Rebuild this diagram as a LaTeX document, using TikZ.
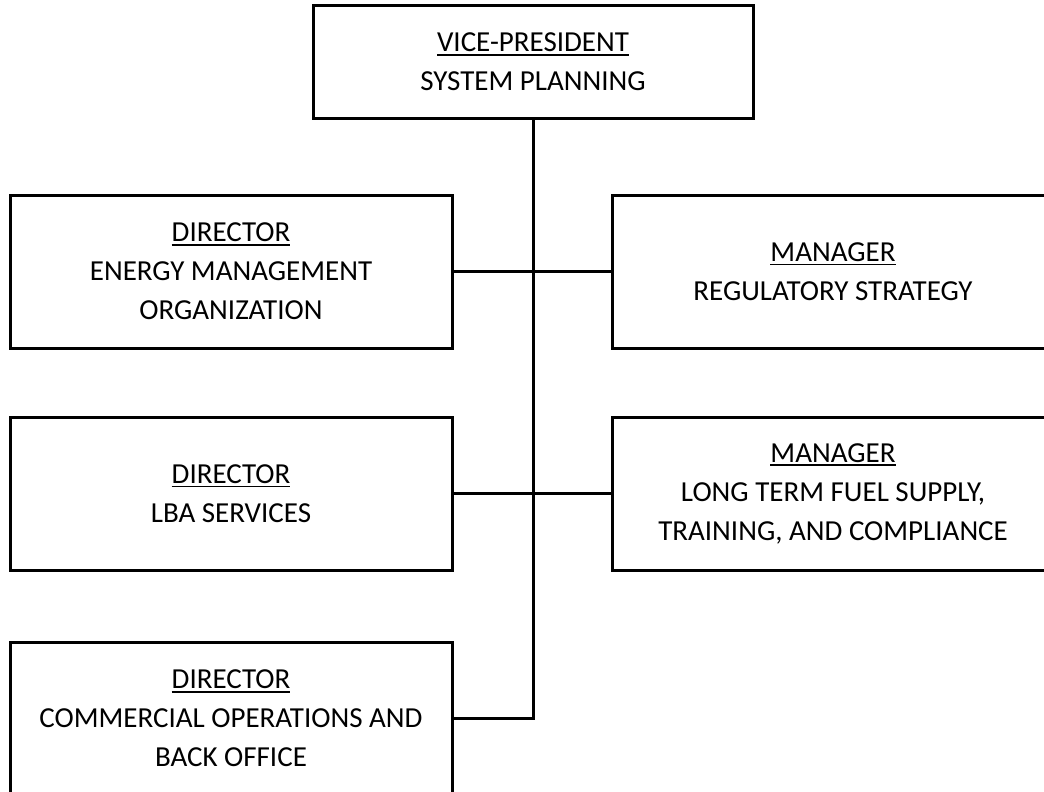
\documentclass[tikz,border=0pt]{standalone}
\usepackage{fontspec}
\setmainfont{Carlito}
\newcommand\myul[1]{\setbox0\hbox{#1}\rlap{\rule[-4pt]{\wd0}{1.8pt}}\box0}
\begin{document}
\begin{tikzpicture}[x=1pt,y=-1pt,
  orgbox/.style={draw=black,line width=3pt,fill=white,inner sep=0pt,outer sep=0pt,
    align=center,font=\fontsize{29}{39}\selectfont,text=black},
  leftbox/.style={orgbox,minimum width=442pt,minimum height=153pt},
  rightbox/.style={orgbox,minimum width=442pt,minimum height=153pt},
  link/.style={draw=black,line width=3pt}]
\useasboundingbox (0,0) rectangle (1044,792);
\clip (0,0) rectangle (1044,792);
\fill[white] (0,0) rectangle (1044,792);
\node[orgbox,minimum width=440pt,minimum height=112pt] (vp) at (533,62) {\myul{VICE-PRESIDENT}\\SYSTEM PLANNING};
\node[leftbox] (emo) at (231,271.5) {\myul{DIRECTOR}\\ENERGY MANAGEMENT\\ORGANIZATION};
\node[leftbox] (lba) at (231,493.5) {\myul{DIRECTOR}\\LBA SERVICES};
\node[leftbox] (com) at (231,718.5) {\myul{DIRECTOR}\\COMMERCIAL OPERATIONS AND\\BACK OFFICE};
\node[rightbox] (reg) at (833,271.5) {\myul{MANAGER}\\REGULATORY STRATEGY};
\node[rightbox] (fuel) at (833,493.5) {\myul{MANAGER}\\LONG TERM FUEL SUPPLY,\\TRAINING, AND COMPLIANCE};
\coordinate (j3) at (533,718);
\draw[link] (vp.south) -- (j3);
\draw[link] (emo.east) -- (reg.west);
\draw[link] (lba.east) -- (fuel.west);
\draw[link,line join=miter] (com.east |- j3) -- (j3) -- ([yshift=-1.5pt]j3 |- vp.south);
\end{tikzpicture}
\end{document}
